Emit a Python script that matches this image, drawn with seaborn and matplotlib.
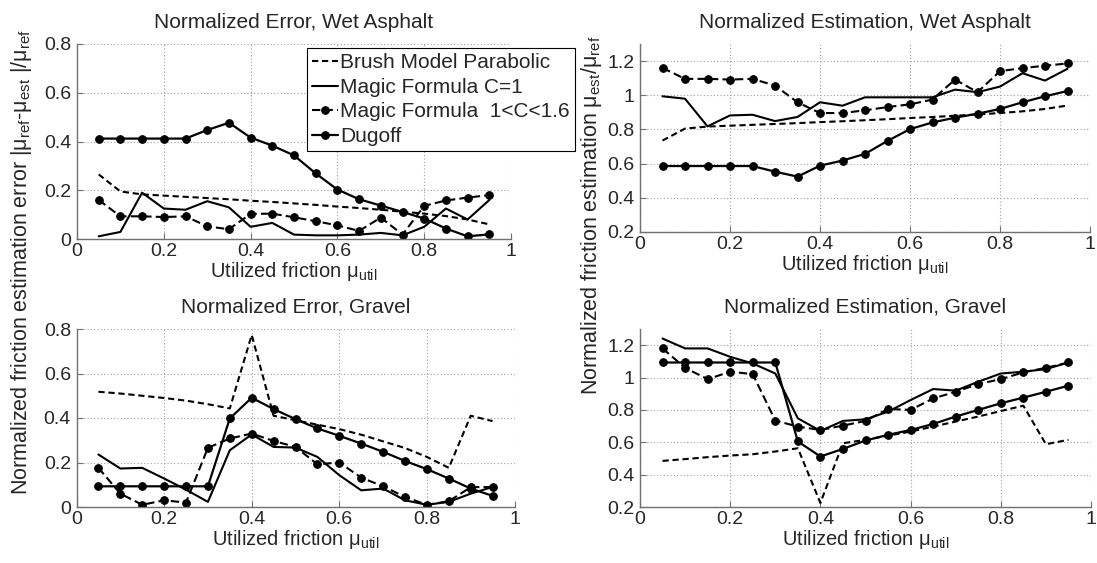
import numpy as np
import matplotlib
matplotlib.use("Agg")
import matplotlib.pyplot as plt
from matplotlib.ticker import FuncFormatter, MultipleLocator
import seaborn as sns

# ---------------- data ----------------
mu_util = [0.05, 0.10, 0.15, 0.20, 0.25, 0.30, 0.35, 0.40, 0.45, 0.50,
           0.55, 0.60, 0.65, 0.70, 0.75, 0.80, 0.85, 0.90, 0.95]

series_names = ["Brush Model Parabolic", "Magic Formula C=1",
                "Magic Formula  1<C<1.6", "Dugoff"]

# Normalized error, wet asphalt
err_wet_brush = [0.265, 0.195, 0.183, 0.178, 0.173, 0.168, 0.163, 0.157, 0.152, 0.146,
                 0.140, 0.133, 0.127, 0.120, 0.112, 0.104, 0.094, 0.080, 0.060]
err_wet_mf1 = [0.011, 0.029, 0.190, 0.125, 0.120, 0.155, 0.130, 0.050, 0.066, 0.018,
               0.015, 0.015, 0.018, 0.025, 0.015, 0.050, 0.125, 0.080, 0.160]
err_wet_mfc = [0.160, 0.093, 0.093, 0.090, 0.093, 0.052, 0.040, 0.103, 0.104, 0.089,
               0.073, 0.056, 0.033, 0.088, 0.018, 0.136, 0.158, 0.170, 0.180]
err_wet_dug = [0.412, 0.412, 0.412, 0.412, 0.412, 0.447, 0.477, 0.416, 0.383, 0.343,
               0.269, 0.203, 0.163, 0.137, 0.111, 0.084, 0.043, 0.011, 0.019]

# Normalized estimation, wet asphalt
est_wet_brush = [0.735, 0.805, 0.817, 0.822, 0.827, 0.832, 0.837, 0.843, 0.848, 0.854,
                 0.860, 0.867, 0.873, 0.880, 0.888, 0.896, 0.906, 0.920, 0.940]
est_wet_mf1 = [0.994, 0.980, 0.818, 0.882, 0.886, 0.849, 0.873, 0.959, 0.939, 0.988,
               0.988, 0.988, 0.988, 1.033, 1.018, 1.051, 1.129, 1.086, 1.155]
est_wet_mfc = [1.160, 1.096, 1.096, 1.092, 1.096, 1.057, 0.959, 0.896, 0.896, 0.912,
               0.931, 0.947, 0.975, 1.092, 1.018, 1.141, 1.159, 1.173, 1.186]
est_wet_dug = [0.586, 0.586, 0.586, 0.586, 0.586, 0.553, 0.524, 0.588, 0.618, 0.657,
               0.733, 0.802, 0.841, 0.869, 0.892, 0.920, 0.959, 0.994, 1.025]

# Normalized error, gravel
err_grv_brush = [0.518, 0.510, 0.500, 0.490, 0.478, 0.462, 0.443, 0.773, 0.410, 0.390,
                 0.370, 0.350, 0.325, 0.295, 0.265, 0.225, 0.176, 0.410, 0.386]
err_grv_mf1 = [0.236, 0.173, 0.176, 0.128, 0.078, 0.023, 0.255, 0.326, 0.270, 0.267,
               0.225, 0.143, 0.075, 0.083, 0.030, 0.010, 0.023, 0.060, 0.090]
err_grv_mfc = [0.176, 0.060, 0.010, 0.030, 0.020, 0.266, 0.308, 0.330, 0.297, 0.270,
               0.192, 0.200, 0.132, 0.093, 0.045, 0.010, 0.026, 0.089, 0.090]
err_grv_dug = [0.093, 0.093, 0.093, 0.093, 0.093, 0.093, 0.398, 0.491, 0.440, 0.395,
               0.353, 0.320, 0.285, 0.248, 0.207, 0.170, 0.128, 0.083, 0.050]

# Normalized estimation, gravel
est_grv_brush = [0.485, 0.496, 0.508, 0.518, 0.526, 0.543, 0.563, 0.225, 0.594, 0.615,
                 0.641, 0.666, 0.697, 0.728, 0.759, 0.793, 0.826, 0.588, 0.615]
est_grv_mf1 = [1.241, 1.180, 1.180, 1.128, 1.087, 1.025, 0.748, 0.670, 0.732, 0.742,
               0.789, 0.861, 0.929, 0.919, 0.974, 1.025, 1.036, 1.052, 1.093]
est_grv_mfc = [1.180, 1.060, 0.990, 1.036, 1.021, 0.734, 0.697, 0.676, 0.703, 0.732,
               0.806, 0.800, 0.871, 0.912, 0.960, 0.990, 1.032, 1.060, 1.093]
est_grv_dug = [1.093, 1.093, 1.093, 1.093, 1.093, 1.093, 0.605, 0.512, 0.559, 0.611,
               0.646, 0.676, 0.713, 0.759, 0.800, 0.841, 0.876, 0.912, 0.950]

titles = ["Normalized Error, Wet Asphalt", "Normalized Estimation, Wet Asphalt",
          "Normalized Error, Gravel", "Normalized Estimation, Gravel"]
xlabel = r"Utilized friction $\mathregular{\mu_{util}}$"
ylabel_err = (r"Normalized friction estimation error |$\mathregular{\mu_{ref}}$-"
              r"$\mathregular{\mu_{est}}$ |/$\mathregular{\mu_{ref}}$")
ylabel_est = r"Normalized friction estimation $\mathregular{\mu_{est}/\mu_{ref}}$"

# ---------------- style ----------------
sns.set_style("white")
plt.rcParams["font.family"] = ["Liberation Sans", "DejaVu Sans"]
plt.rcParams["mathtext.fontset"] = "custom"
plt.rcParams["mathtext.rm"] = "Liberation Sans"
plt.rcParams["mathtext.it"] = "Liberation Sans:italic"
plt.rcParams["mathtext.bf"] = "Liberation Sans:bold"

W, H = 1097, 563
fig = plt.figure(figsize=(W / 100, H / 100), dpi=100)


def px_axes(x0, x1, ytop, ybot):
    return fig.add_axes([x0 / W, 1 - ybot / H, (x1 - x0) / W, (ybot - ytop) / H])


ax_tl = px_axes(77, 511, 44, 239)
ax_tr = px_axes(640, 1090, 44, 232)
ax_bl = px_axes(76.5, 514.5, 329, 507)
ax_br = px_axes(640, 1091, 329, 507)

styles = [
    dict(linestyle=(0, (3.0, 1.8)), linewidth=1.5, marker=None),
    dict(linestyle="-", linewidth=1.5, marker=None),
    dict(linestyle=(0, (4.0, 2.0)), linewidth=1.5, marker="o", markersize=5.5),
    dict(linestyle="-", linewidth=1.6, marker="o", markersize=5.5),
]

panels = [
    (ax_tl, [err_wet_brush, err_wet_mf1, err_wet_mfc, err_wet_dug], (0, 0.8), 0, 11.5),
    (ax_tr, [est_wet_brush, est_wet_mf1, est_wet_mfc, est_wet_dug], (0.2, 1.3), 1, 11.5),
    (ax_bl, [err_grv_brush, err_grv_mf1, err_grv_mfc, err_grv_dug], (0, 0.8), 2, 12.0),
    (ax_br, [est_grv_brush, est_grv_mf1, est_grv_mfc, est_grv_dug], (0.2, 1.3), 3, 12.0),
]

fmt = FuncFormatter(lambda v, p: "%g" % round(v, 6))

for ax, ys, ylim, ti, tpad in panels:
    for name, y, st in zip(series_names, ys, styles):
        sns.lineplot(x=mu_util, y=y, ax=ax, color="k", label=name, legend=False,
                     markeredgecolor="k", markerfacecolor="k", **st)
    ax.set_xlim(0, 1)
    ax.set_ylim(*ylim)
    ax.xaxis.set_major_locator(MultipleLocator(0.2))
    ax.yaxis.set_major_locator(MultipleLocator(0.2))
    ax.xaxis.set_major_formatter(fmt)
    ax.yaxis.set_major_formatter(fmt)
    ax.grid(True, color="#a0a0a0", linestyle=(0, (1, 2)), linewidth=0.8)
    ax.set_axisbelow(True)
    for s in ["top", "right"]:
        ax.spines[s].set_visible(False)
    for s in ["left", "bottom"]:
        ax.spines[s].set_color("#707070")
        ax.spines[s].set_linewidth(1.0)
    ax.tick_params(direction="in", length=4, width=0.8, color="#707070",
                   labelsize=14, bottom=True, left=True)
    ax.tick_params(axis="x", pad=3)
    ax.tick_params(axis="y", pad=4)
    ax.set_title(titles[ti], fontsize=15, pad=tpad)
    ax.set_xlabel(xlabel, fontsize=14.5, labelpad=0)
    ax.set_ylabel("")

# figure-level y labels (span across rows as in the reference)
fig.text(22 / W, 1 - 262 / H, ylabel_err, rotation=90, ha="center", va="center",
         fontsize=15.5)
fig.text(591 / W, 1 - 215 / H, ylabel_est, rotation=90, ha="center", va="center",
         fontsize=15.5)

handles = ax_tl.get_lines()[:4]
leg = ax_tl.legend(handles, series_names, loc="upper left",
                   bbox_to_anchor=(307 / W, 1 - 48 / H), bbox_transform=fig.transFigure,
                   fontsize=15, frameon=True, fancybox=False, edgecolor="k",
                   framealpha=1, handlelength=1.25, handletextpad=0.1,
                   labelspacing=0.27, borderpad=0.25, borderaxespad=0)
leg.get_frame().set_linewidth(0.8)
leg.set_zorder(10)

fig.savefig("out.png", dpi=100)
